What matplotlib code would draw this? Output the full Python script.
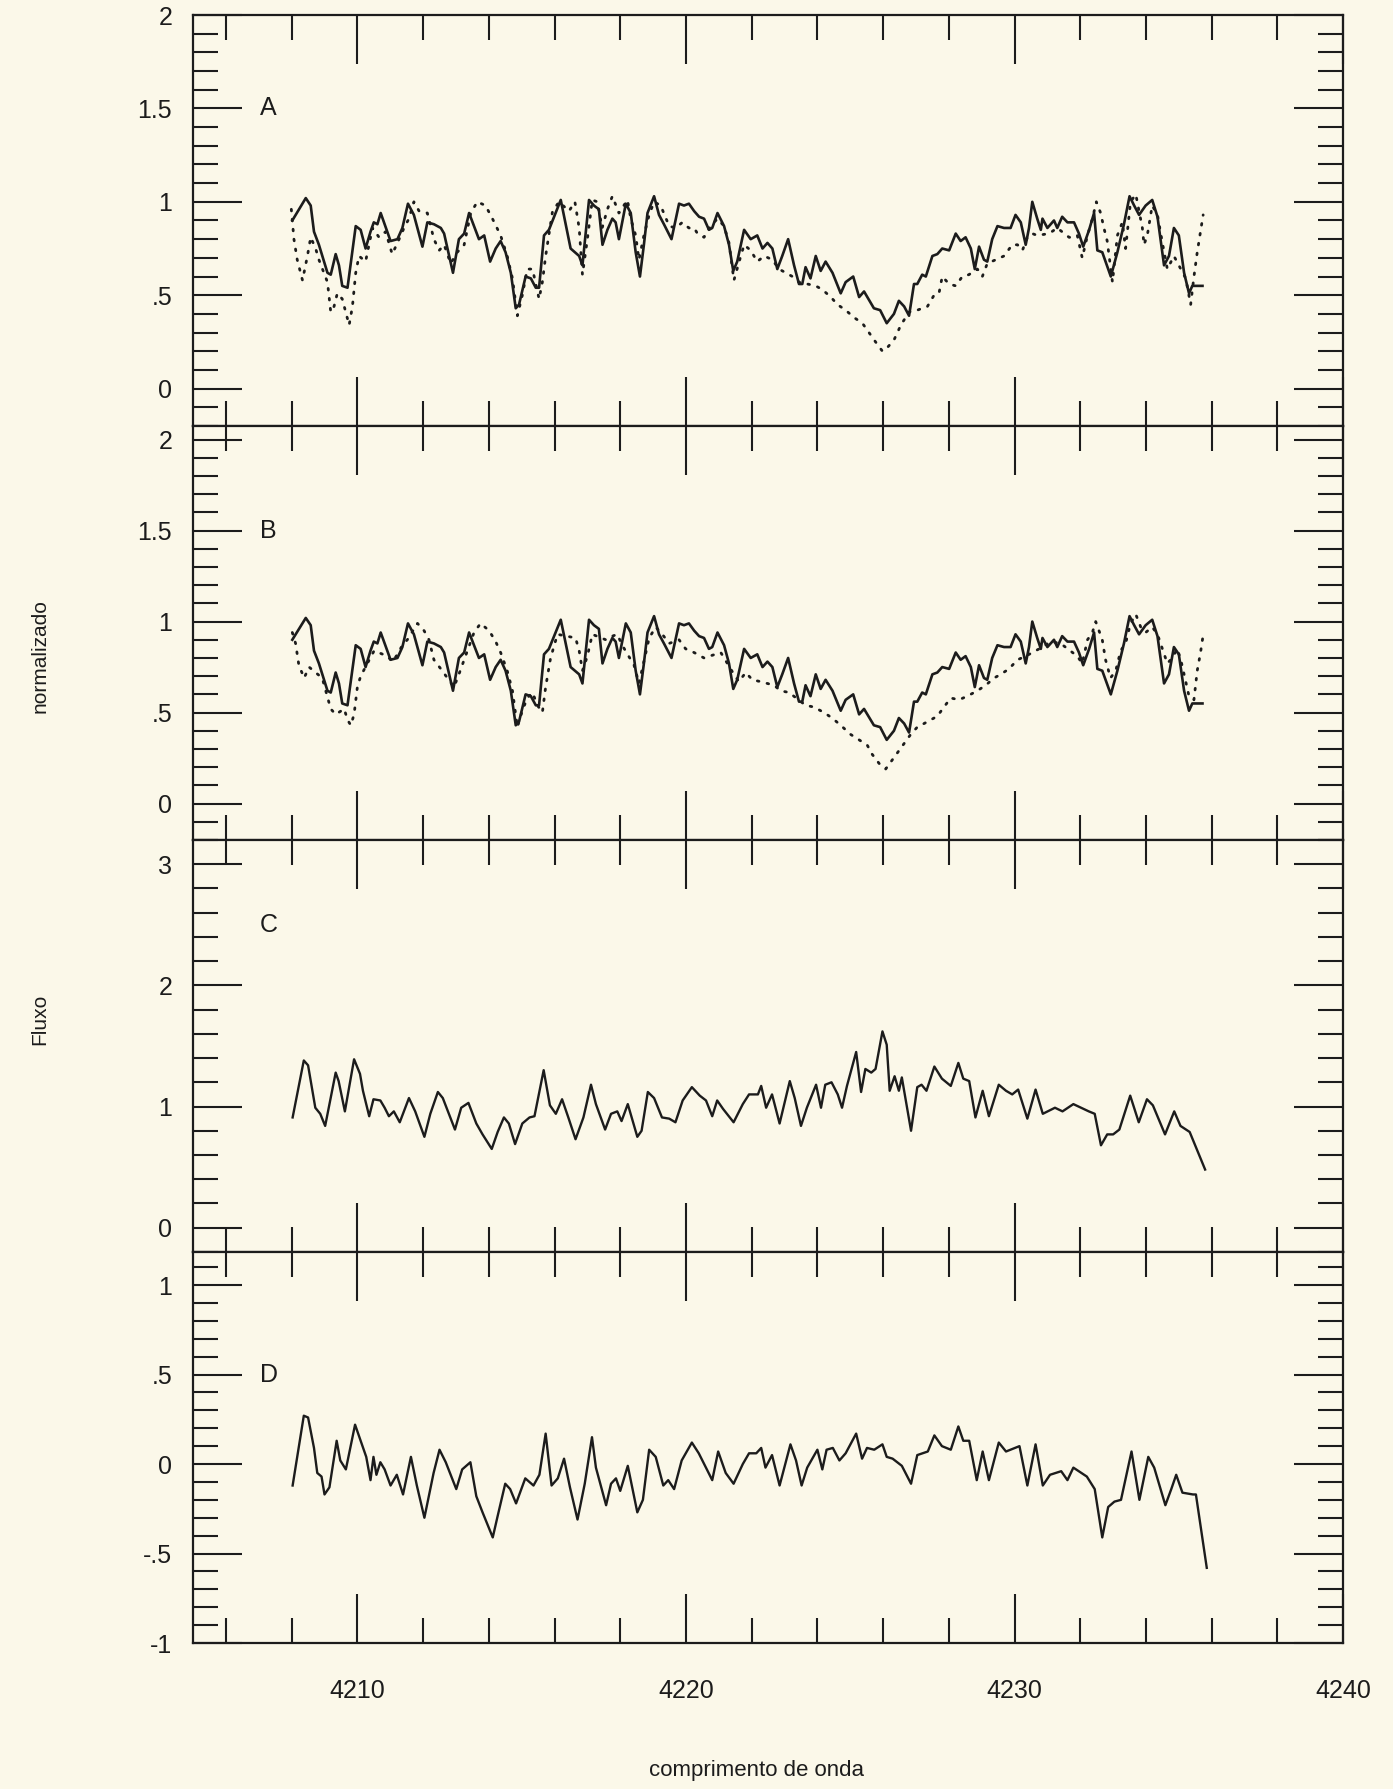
import numpy as np
import matplotlib.pyplot as plt
from matplotlib.ticker import MultipleLocator, FuncFormatter

# observed spectrum (solid, panels A and B)
wl_obs = [4208.02, 4208.43, 4208.58, 4208.68, 4208.83, 4209.09, 4209.19, 4209.34, 4209.44, 4209.54,
          4209.70, 4209.95, 4210.10, 4210.25, 4210.40, 4210.50, 4210.61, 4210.71, 4210.81, 4211.01,
          4211.22, 4211.37, 4211.54, 4211.72, 4211.98, 4212.13, 4212.33, 4212.54, 4212.64, 4212.91,
          4213.09, 4213.25, 4213.40, 4213.55, 4213.70, 4213.86, 4214.04, 4214.21, 4214.36, 4214.51,
          4214.67, 4214.82, 4214.92, 4215.12, 4215.28, 4215.43, 4215.53, 4215.68, 4215.83, 4216.19,
          4216.49, 4216.75, 4216.85, 4217.05, 4217.20, 4217.35, 4217.46, 4217.61, 4217.76, 4217.86,
          4217.96, 4218.17, 4218.32, 4218.47, 4218.60, 4218.72, 4218.83, 4219.03, 4219.18, 4219.33,
          4219.56, 4219.79, 4219.94, 4220.09, 4220.25, 4220.40, 4220.55, 4220.70, 4220.80, 4220.96,
          4221.16, 4221.31, 4221.44, 4221.56, 4221.77, 4221.97, 4222.17, 4222.33, 4222.48, 4222.63,
          4222.78, 4222.93, 4223.11, 4223.29, 4223.44, 4223.54, 4223.64, 4223.79, 4223.95, 4224.10,
          4224.25, 4224.46, 4224.71, 4224.86, 4225.09, 4225.27, 4225.42, 4225.72, 4225.91, 4226.11,
          4226.33, 4226.48, 4226.64, 4226.79, 4226.94, 4227.04, 4227.19, 4227.30, 4227.50, 4227.65,
          4227.80, 4228.01, 4228.21, 4228.36, 4228.51, 4228.67, 4228.79, 4228.92, 4229.07, 4229.17,
          4229.32, 4229.48, 4229.68, 4229.88, 4230.03, 4230.19, 4230.34, 4230.44, 4230.54, 4230.69,
          4230.80, 4230.85, 4231.00, 4231.20, 4231.30, 4231.45, 4231.61, 4231.81, 4231.96, 4232.09,
          4232.27, 4232.42, 4232.52, 4232.67, 4232.93, 4233.13, 4233.33, 4233.50, 4233.64, 4233.79,
          4233.99, 4234.19, 4234.35, 4234.55, 4234.70, 4234.85, 4235.00, 4235.16, 4235.31, 4235.41,
          4235.72]
fx_obs = [0.90, 1.02, 0.98, 0.84, 0.77, 0.62, 0.61, 0.72, 0.66, 0.55,
          0.54, 0.87, 0.85, 0.75, 0.84, 0.89, 0.88, 0.94, 0.89, 0.79,
          0.80, 0.86, 0.99, 0.93, 0.76, 0.89, 0.88, 0.86, 0.83, 0.62,
          0.80, 0.83, 0.94, 0.87, 0.80, 0.82, 0.68, 0.75, 0.79, 0.73,
          0.62, 0.43, 0.45, 0.60, 0.59, 0.54, 0.54, 0.82, 0.85, 1.01,
          0.75, 0.71, 0.66, 1.01, 0.98, 0.96, 0.77, 0.85, 0.91, 0.89,
          0.80, 0.99, 0.94, 0.73, 0.60, 0.77, 0.94, 1.03, 0.93, 0.88,
          0.80, 0.99, 0.98, 0.99, 0.95, 0.92, 0.91, 0.85, 0.86, 0.94,
          0.87, 0.77, 0.63, 0.68, 0.85, 0.80, 0.82, 0.75, 0.78, 0.75,
          0.64, 0.71, 0.80, 0.66, 0.56, 0.56, 0.65, 0.59, 0.71, 0.63,
          0.68, 0.62, 0.51, 0.57, 0.60, 0.49, 0.52, 0.43, 0.42, 0.35,
          0.40, 0.47, 0.44, 0.39, 0.56, 0.56, 0.61, 0.60, 0.71, 0.72,
          0.75, 0.74, 0.83, 0.79, 0.81, 0.75, 0.64, 0.76, 0.69, 0.68,
          0.80, 0.87, 0.86, 0.86, 0.93, 0.89, 0.77, 0.86, 1.00, 0.91,
          0.85, 0.91, 0.86, 0.90, 0.86, 0.92, 0.89, 0.89, 0.83, 0.76,
          0.85, 0.94, 0.74, 0.73, 0.60, 0.73, 0.88, 1.03, 0.98, 0.93,
          0.98, 1.01, 0.92, 0.66, 0.71, 0.86, 0.82, 0.62, 0.51, 0.55,
          0.55]

# synthetic spectrum A (dotted)
wl_syn_a = [4207.99, 4208.07, 4208.17, 4208.33, 4208.48, 4208.58, 4208.73, 4208.83, 4209.09, 4209.19,
            4209.29, 4209.39, 4209.54, 4209.75, 4209.85, 4209.95, 4210.05, 4210.25, 4210.46, 4210.66,
            4210.86, 4211.06, 4211.22, 4211.42, 4211.57, 4211.72, 4211.88, 4212.13, 4212.33, 4212.49,
            4212.64, 4212.84, 4213.04, 4213.25, 4213.45, 4213.65, 4213.90, 4214.11, 4214.36, 4214.56,
            4214.72, 4214.87, 4215.02, 4215.17, 4215.33, 4215.53, 4215.63, 4215.73, 4215.94, 4216.14,
            4216.44, 4216.62, 4216.75, 4216.85, 4217.00, 4217.15, 4217.30, 4217.45, 4217.61, 4217.76,
            4217.96, 4218.22, 4218.32, 4218.47, 4218.57, 4218.72, 4218.88, 4219.03, 4219.23, 4219.49,
            4219.69, 4219.89, 4220.09, 4220.25, 4220.35, 4220.55, 4220.75, 4220.96, 4221.16, 4221.31,
            4221.46, 4221.62, 4221.77, 4221.97, 4222.17, 4222.38, 4222.63, 4222.83, 4223.04, 4223.24,
            4223.44, 4223.69, 4223.95, 4224.15, 4224.41, 4224.61, 4224.86, 4225.12, 4225.37, 4225.57,
            4225.77, 4225.98, 4226.13, 4226.33, 4226.54, 4226.79, 4227.04, 4227.35, 4227.55, 4227.70,
            4227.80, 4228.01, 4228.21, 4228.41, 4228.61, 4228.87, 4229.02, 4229.17, 4229.43, 4229.68,
            4229.93, 4230.09, 4230.24, 4230.39, 4230.54, 4230.69, 4231.05, 4231.30, 4231.66, 4231.81,
            4231.91, 4232.06, 4232.22, 4232.37, 4232.49, 4232.62, 4232.72, 4232.82, 4232.98, 4233.13,
            4233.28, 4233.38, 4233.53, 4233.69, 4233.89, 4233.94, 4234.04, 4234.19, 4234.35, 4234.50,
            4234.65, 4234.85, 4235.06, 4235.21, 4235.36, 4235.46, 4235.56, 4235.74]
fx_syn_a = [0.96, 0.80, 0.69, 0.58, 0.71, 0.81, 0.75, 0.69, 0.57, 0.41,
            0.44, 0.51, 0.48, 0.34, 0.44, 0.62, 0.71, 0.68, 0.86, 0.81,
            0.84, 0.72, 0.78, 0.86, 0.91, 1.00, 0.95, 0.94, 0.80, 0.74,
            0.77, 0.67, 0.73, 0.77, 0.94, 1.00, 0.98, 0.91, 0.82, 0.71,
            0.59, 0.39, 0.50, 0.64, 0.64, 0.48, 0.57, 0.71, 0.95, 1.00,
            0.95, 1.00, 0.86, 0.61, 0.80, 1.01, 1.00, 0.86, 0.96, 1.03,
            0.94, 1.01, 0.91, 0.82, 0.69, 0.82, 0.93, 1.00, 0.98, 0.87,
            0.86, 0.89, 0.86, 0.86, 0.83, 0.81, 0.87, 0.91, 0.87, 0.78,
            0.58, 0.68, 0.77, 0.74, 0.68, 0.71, 0.69, 0.64, 0.62, 0.60,
            0.57, 0.56, 0.55, 0.53, 0.49, 0.45, 0.42, 0.38, 0.35, 0.30,
            0.25, 0.20, 0.22, 0.26, 0.34, 0.41, 0.42, 0.44, 0.50, 0.51,
            0.60, 0.56, 0.55, 0.60, 0.61, 0.64, 0.60, 0.67, 0.69, 0.71,
            0.77, 0.77, 0.74, 0.81, 0.83, 0.82, 0.83, 0.86, 0.81, 0.81,
            0.82, 0.70, 0.82, 0.91, 1.00, 0.94, 0.86, 0.79, 0.57, 0.82,
            0.89, 0.75, 1.00, 1.04, 0.86, 0.77, 0.82, 0.98, 0.93, 0.78,
            0.64, 0.71, 0.64, 0.59, 0.45, 0.60, 0.73, 0.93]

# synthetic spectrum B (dotted)
wl_syn_b = [4208.02, 4208.12, 4208.22, 4208.38, 4208.53, 4208.93, 4209.19, 4209.34, 4209.60, 4209.70,
            4209.80, 4209.90, 4210.00, 4210.10, 4210.51, 4210.91, 4211.07, 4211.22, 4211.37, 4211.52,
            4211.83, 4212.03, 4212.18, 4212.33, 4212.54, 4212.94, 4213.09, 4213.55, 4213.75, 4214.01,
            4214.21, 4214.36, 4214.56, 4214.72, 4214.87, 4215.02, 4215.17, 4215.33, 4215.48, 4215.63,
            4215.73, 4215.88, 4216.09, 4216.64, 4216.75, 4216.85, 4217.00, 4217.15, 4217.56, 4217.76,
            4217.91, 4218.06, 4218.42, 4218.57, 4218.72, 4218.88, 4219.08, 4219.28, 4219.49, 4219.79,
            4219.99, 4220.14, 4220.35, 4220.55, 4221.06, 4221.46, 4221.61, 4221.82, 4222.02, 4222.27,
            4222.68, 4222.88, 4223.14, 4223.64, 4223.90, 4224.20, 4224.45, 4224.71, 4225.01, 4225.27,
            4225.52, 4225.67, 4225.88, 4226.08, 4226.28, 4226.48, 4226.84, 4227.04, 4227.25, 4227.45,
            4227.65, 4227.85, 4228.06, 4228.31, 4228.56, 4228.87, 4229.12, 4229.38, 4229.58, 4229.83,
            4230.09, 4230.34, 4230.85, 4231.10, 4231.40, 4231.91, 4232.06, 4232.22, 4232.37, 4232.47,
            4232.67, 4232.77, 4232.92, 4233.08, 4233.23, 4233.38, 4233.53, 4233.69, 4233.84, 4233.99,
            4234.19, 4234.35, 4234.50, 4234.65, 4234.80, 4234.95, 4235.06, 4235.21, 4235.31, 4235.46,
            4235.56, 4235.66, 4235.76]
fx_syn_b = [0.94, 0.88, 0.76, 0.69, 0.75, 0.69, 0.52, 0.49, 0.52, 0.46,
            0.43, 0.49, 0.64, 0.70, 0.84, 0.81, 0.78, 0.82, 0.87, 0.90,
            0.99, 0.95, 0.90, 0.79, 0.74, 0.64, 0.71, 0.94, 0.99, 0.95,
            0.89, 0.83, 0.73, 0.62, 0.42, 0.51, 0.58, 0.61, 0.54, 0.50,
            0.64, 0.80, 0.93, 0.91, 0.84, 0.73, 0.81, 0.93, 0.90, 0.92,
            0.93, 0.87, 0.76, 0.66, 0.78, 0.91, 0.97, 0.93, 0.88, 0.90,
            0.85, 0.84, 0.82, 0.80, 0.83, 0.71, 0.67, 0.72, 0.68, 0.67,
            0.65, 0.62, 0.61, 0.54, 0.53, 0.50, 0.47, 0.43, 0.38, 0.35,
            0.32, 0.27, 0.22, 0.19, 0.24, 0.29, 0.38, 0.42, 0.44, 0.46,
            0.48, 0.53, 0.58, 0.57, 0.59, 0.62, 0.65, 0.69, 0.71, 0.74,
            0.79, 0.81, 0.86, 0.89, 0.88, 0.81, 0.77, 0.90, 0.94, 1.00,
            0.90, 0.79, 0.69, 0.73, 0.84, 0.88, 0.99, 1.04, 0.97, 0.94,
            0.97, 0.93, 0.85, 0.77, 0.80, 0.85, 0.79, 0.67, 0.59, 0.57,
            0.73, 0.83, 0.95]

# panel C: ratio
wl_c = [4208.03, 4208.37, 4208.50, 4208.72, 4208.87, 4209.02, 4209.34, 4209.43, 4209.62, 4209.90,
        4210.08, 4210.17, 4210.36, 4210.49, 4210.70, 4210.83, 4210.96, 4211.11, 4211.29, 4211.57,
        4211.76, 4212.04, 4212.22, 4212.45, 4212.60, 4212.97, 4213.16, 4213.38, 4213.62, 4213.81,
        4214.09, 4214.27, 4214.46, 4214.61, 4214.80, 4215.02, 4215.24, 4215.39, 4215.67, 4215.86,
        4216.04, 4216.23, 4216.42, 4216.64, 4216.88, 4217.11, 4217.26, 4217.54, 4217.72, 4217.91,
        4218.04, 4218.23, 4218.52, 4218.65, 4218.84, 4219.03, 4219.27, 4219.49, 4219.68, 4219.90,
        4220.18, 4220.42, 4220.61, 4220.80, 4220.95, 4221.13, 4221.45, 4221.73, 4221.92, 4222.19,
        4222.29, 4222.44, 4222.62, 4222.85, 4223.16, 4223.31, 4223.50, 4223.68, 4223.96, 4224.11,
        4224.24, 4224.43, 4224.62, 4224.75, 4224.90, 4225.18, 4225.33, 4225.46, 4225.64, 4225.77,
        4225.98, 4226.11, 4226.20, 4226.35, 4226.48, 4226.57, 4226.85, 4227.04, 4227.17, 4227.32,
        4227.56, 4227.79, 4228.06, 4228.29, 4228.44, 4228.62, 4228.81, 4229.03, 4229.22, 4229.52,
        4229.74, 4229.93, 4230.11, 4230.39, 4230.64, 4230.86, 4231.23, 4231.46, 4231.79, 4232.26,
        4232.44, 4232.63, 4232.82, 4233.00, 4233.19, 4233.52, 4233.78, 4234.03, 4234.21, 4234.58,
        4234.86, 4235.05, 4235.33, 4235.80]
fx_c = [0.91, 1.38, 1.34, 0.99, 0.94, 0.84, 1.28, 1.21, 0.96, 1.39,
        1.27, 1.13, 0.92, 1.06, 1.05, 0.99, 0.92, 0.96, 0.87, 1.07,
        0.96, 0.75, 0.94, 1.12, 1.07, 0.81, 0.99, 1.03, 0.86, 0.77,
        0.65, 0.79, 0.91, 0.86, 0.69, 0.86, 0.91, 0.92, 1.30, 1.01,
        0.94, 1.06, 0.91, 0.73, 0.91, 1.18, 1.02, 0.81, 0.94, 0.96,
        0.88, 1.02, 0.75, 0.80, 1.12, 1.07, 0.91, 0.90, 0.87, 1.05,
        1.16, 1.09, 1.05, 0.92, 1.05, 0.98, 0.87, 1.02, 1.10, 1.10,
        1.17, 0.99, 1.10, 0.86, 1.21, 1.07, 0.84, 0.99, 1.18, 0.99,
        1.18, 1.20, 1.10, 0.99, 1.17, 1.45, 1.12, 1.31, 1.28, 1.31,
        1.62, 1.51, 1.13, 1.25, 1.13, 1.24, 0.80, 1.16, 1.18, 1.13,
        1.33, 1.23, 1.17, 1.36, 1.23, 1.21, 0.91, 1.13, 0.92, 1.18,
        1.13, 1.10, 1.14, 0.90, 1.14, 0.94, 0.99, 0.96, 1.02, 0.96,
        0.94, 0.68, 0.77, 0.77, 0.81, 1.09, 0.87, 1.06, 1.01, 0.77,
        0.96, 0.84, 0.79, 0.48]

# panel D: difference
wl_d = [4208.03, 4208.37, 4208.50, 4208.68, 4208.78, 4208.91, 4209.00, 4209.15, 4209.37, 4209.48,
        4209.65, 4209.93, 4210.08, 4210.27, 4210.40, 4210.49, 4210.58, 4210.70, 4210.83, 4211.01,
        4211.20, 4211.39, 4211.63, 4211.81, 4212.04, 4212.22, 4212.32, 4212.50, 4212.69, 4213.01,
        4213.19, 4213.44, 4213.62, 4213.81, 4214.12, 4214.27, 4214.50, 4214.65, 4214.83, 4215.11,
        4215.36, 4215.54, 4215.73, 4215.91, 4216.10, 4216.29, 4216.47, 4216.70, 4216.92, 4217.14,
        4217.26, 4217.57, 4217.72, 4217.87, 4218.00, 4218.23, 4218.52, 4218.69, 4218.88, 4219.08,
        4219.31, 4219.46, 4219.64, 4219.87, 4220.18, 4220.39, 4220.80, 4220.98, 4221.21, 4221.45,
        4221.73, 4221.92, 4222.14, 4222.29, 4222.42, 4222.62, 4222.85, 4223.18, 4223.35, 4223.52,
        4223.69, 4224.00, 4224.15, 4224.28, 4224.47, 4224.67, 4224.86, 4225.18, 4225.36, 4225.51,
        4225.73, 4225.98, 4226.11, 4226.29, 4226.57, 4226.85, 4227.04, 4227.36, 4227.56, 4227.79,
        4228.06, 4228.29, 4228.44, 4228.62, 4228.85, 4229.03, 4229.22, 4229.52, 4229.74, 4230.15,
        4230.39, 4230.64, 4230.86, 4231.08, 4231.42, 4231.61, 4231.79, 4232.20, 4232.44, 4232.67,
        4232.85, 4233.04, 4233.24, 4233.56, 4233.80, 4234.07, 4234.25, 4234.59, 4234.77, 4234.92,
        4235.11, 4235.43, 4235.52, 4235.85]
fx_d = [-0.12, 0.27, 0.26, 0.09, -0.05, -0.07, -0.17, -0.13, 0.13, 0.02,
        -0.03, 0.22, 0.14, 0.04, -0.09, 0.04, -0.06, 0.01, -0.03, -0.12,
        -0.06, -0.17, 0.04, -0.12, -0.30, -0.14, -0.05, 0.08, 0.01, -0.14,
        -0.03, 0.01, -0.18, -0.27, -0.41, -0.29, -0.11, -0.14, -0.22, -0.08,
        -0.12, -0.06, 0.17, -0.12, -0.08, 0.03, -0.13, -0.31, -0.11, 0.15,
        -0.02, -0.23, -0.11, -0.08, -0.15, -0.01, -0.27, -0.20, 0.08, 0.04,
        -0.12, -0.09, -0.14, 0.02, 0.12, 0.06, -0.09, 0.07, -0.05, -0.11,
        0.00, 0.06, 0.06, 0.09, -0.02, 0.05, -0.12, 0.11, 0.02, -0.12,
        -0.02, 0.08, -0.03, 0.08, 0.09, 0.02, 0.06, 0.17, 0.03, 0.09,
        0.08, 0.11, 0.04, 0.03, -0.01, -0.11, 0.05, 0.07, 0.16, 0.10,
        0.08, 0.21, 0.13, 0.13, -0.09, 0.07, -0.09, 0.12, 0.07, 0.10,
        -0.12, 0.11, -0.12, -0.06, -0.04, -0.09, -0.02, -0.07, -0.14, -0.41,
        -0.24, -0.21, -0.20, 0.07, -0.20, 0.04, -0.02, -0.23, -0.14, -0.06,
        -0.16, -0.17, -0.17, -0.58]

ink = '#1c1c1c'
paper = '#fbf8e9'

plt.rcParams['font.family'] = ['Liberation Sans', 'DejaVu Sans']

fig = plt.figure(figsize=(13.93, 17.89), dpi=100, facecolor=paper)

# panel rectangles (left, bottom, width, height) in figure fractions
left, width = 0.1386, 0.8256
rects = [(left, 0.7619, width, 0.2297),
         (left, 0.5305, width, 0.2314),
         (left, 0.3002, width, 0.2303),
         (left, 0.0816, width, 0.2186)]
ylims = [(-0.2, 2.0), (-0.2, 2.075), (-0.2, 3.2), (-1.0, 1.185)]
ymajor = [0.5, 0.5, 1.0, 0.5]
yminor = [0.1, 0.1, 0.2, 0.1]
letters = ['A', 'B', 'C', 'D']
letter_y = [1.5, 1.5, 2.5, 0.5]


def short_fmt(v, pos):
    s = f'{v:g}'
    if s.startswith('0.'):
        s = s[1:]
    elif s.startswith('-0.'):
        s = '-' + s[2:]
    return s


axes = []
for i, r in enumerate(rects):
    ax = fig.add_axes(r)
    ax.set_facecolor(paper)
    ax.set_xlim(4205, 4240)
    ax.set_ylim(*ylims[i])
    ax.xaxis.set_major_locator(MultipleLocator(10))
    ax.xaxis.set_minor_locator(MultipleLocator(2))
    ax.yaxis.set_major_locator(MultipleLocator(ymajor[i]))
    ax.yaxis.set_minor_locator(MultipleLocator(yminor[i]))
    ax.yaxis.set_major_formatter(FuncFormatter(short_fmt))
    ax.tick_params(which='both', direction='in', top=True, right=True,
                   color=ink, width=1.5, labelcolor=ink, labelsize=18)
    ax.tick_params(which='major', length=35, pad=15)
    ax.tick_params(which='minor', length=18)
    ax.tick_params(axis='x', labelbottom=(i == 3), pad=26)
    for sp in ax.spines.values():
        sp.set_color(ink)
        sp.set_linewidth(1.6)
    ax.text(4207.3, letter_y[i], letters[i], ha='center', va='center',
            fontsize=18, color=ink)
    axes.append(ax)

axA, axB, axC, axD = axes
dots = (0, (0.6, 3.0))

axA.plot(wl_obs, fx_obs, color=ink, lw=1.9)
axA.plot(wl_syn_a, fx_syn_a, color=ink, lw=2.0, ls=dots, dash_capstyle='round')

axB.plot(wl_obs, fx_obs, color=ink, lw=1.9)
axB.plot(wl_syn_b, fx_syn_b, color=ink, lw=2.0, ls=dots, dash_capstyle='round')

axC.plot(wl_c, fx_c, color=ink, lw=1.7)
axD.plot(wl_d, fx_d, color=ink, lw=1.7)

fig.text(0.543, 0.0106, 'comprimento de onda', ha='center', va='center',
         fontsize=16, color=ink)
fig.text(0.0287, 0.6333, 'normalizado', rotation=90, ha='center', va='center',
         fontsize=15, color=ink)
fig.text(0.0287, 0.4304, 'Fluxo', rotation=90, ha='center', va='center',
         fontsize=15, color=ink)

fig.savefig('out.png', dpi=100, facecolor=paper)
